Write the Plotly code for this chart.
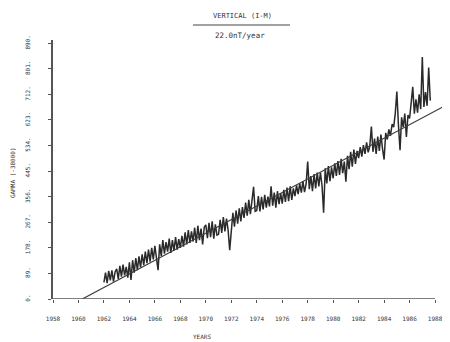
import plotly.graph_objects as go

# ---- data ----
start_year = 1962.0
step = 0.125
values_by_year = [
    [58, 92, 55, 98, 65, 100, 60, 94],            # 1962
    [105, 70, 115, 78, 120, 82, 112, 74],         # 1963
    [128, 66, 135, 92, 142, 100, 148, 110],       # 1964
    [155, 118, 165, 125, 172, 130, 178, 138],     # 1965
    [185, 145, 100, 190, 150, 205, 158, 198],     # 1966
    [165, 210, 160, 205, 168, 215, 172, 208],     # 1967
    [178, 220, 182, 232, 190, 240, 195, 235],     # 1968
    [200, 248, 195, 255, 205, 245, 190, 250],     # 1969
    [258, 212, 265, 215, 270, 210, 260, 222],     # 1970
    [225, 275, 230, 285, 235, 280, 240, 170],     # 1971
    [250, 300, 252, 308, 262, 315, 270, 320],     # 1972
    [282, 335, 290, 345, 295, 350, 390, 305],     # 1973
    [308, 358, 305, 355, 312, 362, 318, 356],     # 1974
    [322, 392, 325, 370, 318, 375, 330, 368],     # 1975
    [332, 380, 338, 388, 340, 392, 345, 385],     # 1976
    [358, 395, 365, 402, 370, 410, 372, 400],     # 1977
    [478, 382, 428, 375, 435, 385, 440, 392],     # 1978
    [440, 395, 300, 455, 402, 462, 410, 458],     # 1979
    [420, 472, 428, 480, 432, 488, 438, 478],     # 1980
    [408, 498, 452, 512, 460, 520, 470, 515],     # 1981
    [490, 528, 495, 535, 505, 545, 510, 532],     # 1982
    [600, 512, 558, 505, 565, 515, 572, 522],     # 1983
    [485, 578, 555, 590, 568, 608, 598, 645],     # 1984
    [722, 605, 518, 632, 598, 645, 564, 640],     # 1985
    [628, 682, 738, 645, 695, 648, 712, 660],     # 1986
    [842, 668, 720, 672, 805, 690],               # 1987
]
trend_years = [1960.3, 1988.86]
trend_values = [0, 674]

x_ticks = list(range(1958, 1989, 2))
y_ticks = [0, 89, 178, 267, 356, 445, 534, 623, 712, 801, 890]
y_ticktext = [f"{v}." for v in y_ticks]

title_text = "VERTICAL (I-M)"
subtitle_text = "22.0nT/year"
x_title = "YEARS"
y_title = "GAMMA (-38000)"

# flatten series
values = [v for yr in values_by_year for v in yr]
years = [start_year + i * step for i in range(len(values))]

ink = "#333333"
font_fam = "DejaVu Sans Mono"

# the page body has an 8px margin: size the figure to fill the rest of the window
OFF = 8
W, H = 450 - OFF, 342 - OFF
L, T = 53 - OFF, 40 - OFF
R = W - (446 - OFF)
B = H - (299 - OFF)
PW, PH = W - L - R, H - T - B


def px(xp):  # page pixel x -> paper fraction
    return (xp - OFF - L) / PW


def py(yp):  # page pixel y -> paper fraction
    return (H - B - (yp - OFF)) / PH


fig = go.Figure()
fig.add_trace(go.Scatter(x=years, y=values, mode="lines",
                         line=dict(color="#2a2a2a", width=1.5), hoverinfo="skip"))
fig.add_trace(go.Scatter(x=trend_years, y=trend_values, mode="lines",
                         line=dict(color="#3c3c3c", width=1.2), hoverinfo="skip"))

fig.update_layout(
    width=W, height=H,
    margin=dict(l=L, r=R, t=T, b=B, autoexpand=False),
    paper_bgcolor="white", plot_bgcolor="white",
    showlegend=False,
    xaxis=dict(range=[1958, 1988.86], tickvals=x_ticks, ticktext=[str(t) for t in x_ticks],
               showgrid=False, zeroline=False, showline=False, automargin=False,
               ticks="outside", ticklen=3, tickwidth=1.2, tickcolor="#555",
               ticklabelstandoff=11,
               tickfont=dict(family=font_fam, size=6, color=ink)),
    yaxis=dict(range=[0, 901], tickvals=y_ticks, ticktext=y_ticktext,
               showgrid=False, zeroline=False, showline=True, linecolor="#555", linewidth=1.5,
               automargin=False,
               ticks="outside", ticklen=3, tickwidth=1.2, tickcolor="#555",
               tickangle=-90, ticklabelstandoff=16,
               tickfont=dict(family=font_fam, size=6, color=ink)),
    shapes=[
        dict(type="line", xref="x", yref="y", x0=x_ticks[0], x1=x_ticks[-1], y0=0, y1=0,
             line=dict(color="#555", width=1.5)),
        dict(type="line", xref="paper", yref="paper", x0=px(193), x1=px(290),
             y0=py(25), y1=py(25), line=dict(color="#444", width=1.2)),
    ],
    annotations=[
        dict(text=title_text, xref="paper", yref="paper", x=px(242), y=py(16),
             xanchor="center", yanchor="middle",
             showarrow=False, font=dict(family=font_fam, size=7, color=ink)),
        dict(text=subtitle_text, xref="paper", yref="paper", x=px(240), y=py(35),
             xanchor="center", yanchor="middle",
             showarrow=False, font=dict(family=font_fam, size=7.5, color=ink)),
        dict(text=x_title, xref="paper", yref="paper", x=px(202), y=py(336),
             xanchor="center", yanchor="middle",
             showarrow=False, font=dict(family=font_fam, size=6, color=ink)),
        dict(text=y_title, xref="paper", yref="paper", x=px(12), y=py(173),
             xanchor="center", yanchor="middle",
             textangle=-90, showarrow=False, font=dict(family=font_fam, size=6, color=ink)),
    ],
)

fig.write_html("out.html")
